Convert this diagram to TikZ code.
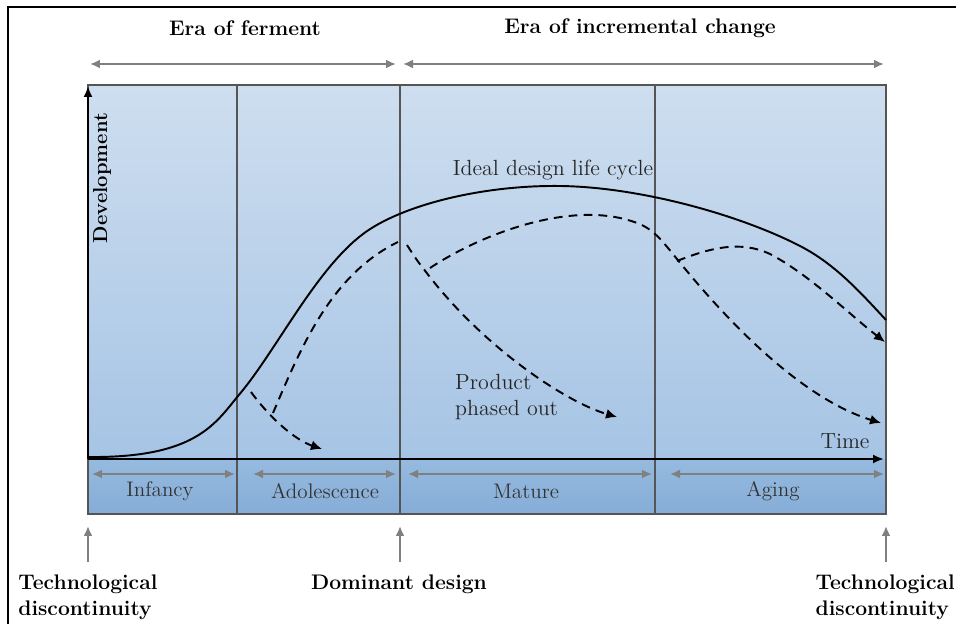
\documentclass[tikz,border=0pt]{standalone}
\usetikzlibrary{positioning, arrows.meta}

\definecolor{paleblue}{RGB}{206,222,239}
\definecolor{midblue}{RGB}{166,196,229}
\definecolor{stripblue}{RGB}{150,186,223}
\definecolor{stripdark}{RGB}{134,173,215}
\definecolor{arrowgray}{RGB}{128,128,128}
\definecolor{framegray}{RGB}{85,85,85}

\tikzset{
  boldlabel/.style={font=\bfseries\fontsize{12}{14.5}\selectfont},
  axislabel/.style={font=\bfseries\fontsize{11.5}{13}\selectfont},
  phase/.style={font=\fontsize{12}{14}\selectfont, text=black!80},
  plain/.style={font=\fontsize{12.5}{15}\selectfont, text=black!85},
  span/.style={arrowgray, line width=1.3pt, {Latex[length=2mm,width=1.8mm]}-{Latex[length=2mm,width=1.8mm]}},
  marker/.style={arrowgray, line width=1.3pt, -{Latex[length=2mm,width=1.8mm]}},
  axis/.style={line width=1.2pt, -{Latex[length=2.2mm,width=1.8mm]}},
  ideal/.style={line width=1.1pt},
  actual/.style={line width=1.1pt, dash pattern=on 5pt off 3.5pt},
  tip/.style={-{Latex[length=2.2mm,width=2mm]}}
}

\begin{document}
\begin{tikzpicture}[x=0.02cm, y=-0.02cm]
    \useasboundingbox (0,0) rectangle (956,624);

    % Frame
    \draw[line width=1.4pt] (8,640) -- (8,7) -- (970,7);

    % Background panels
    \shade[top color=paleblue, bottom color=midblue] (88,85) rectangle (886,459);
    \shade[top color=stripblue, bottom color=stripdark] (88,459) rectangle (886,514);
    \draw[framegray, line width=0.8pt] (88,85) rectangle (886,514);
    \foreach \xx in {237, 400, 655}
        \draw[framegray, line width=0.7pt] (\xx,85) -- (\xx,514);

    % Eras
    \node[boldlabel] (ferment) at (245,28) {Era of ferment};
    \node[boldlabel] (incremental) at (640,28) {Era of incremental change};
    \coordinate (fermentL) at (90,64);
    \coordinate (fermentR) at (396,64);
    \coordinate (incrementalL) at (403,64);
    \coordinate (incrementalR) at (884,64);
    \draw[span] (fermentL) -- (fermentR);
    \draw[span] (incrementalL) -- (incrementalR);

    % Axes
    \coordinate (origin) at (88,459);
    \coordinate (yend) at (88,86);
    \coordinate (xend) at (884,459);
    \draw[axis] (origin) -- (yend);
    \draw[axis] (origin) -- (xend);
    \node[axislabel, rotate=90] (development) at (102,178) {Development};
    \node[plain] (time) at (845,441) {Time};

    % Phases
    \foreach \a/\b/\name/\lbl/\cx in {92/235/infancy/Infancy/160, 253/396/adolescence/Adolescence/325,
                                      408/652/mature/Mature/526, 670/884/aging/Aging/773} {
        \coordinate (\name L) at (\a,474);
        \coordinate (\name R) at (\b,474);
        \draw[span] (\name L) -- (\name R);
        \node[phase] (\name) at (\cx,491) {\lbl};
    }

    % Milestones
    \foreach \xx/\name in {88/startdisc, 400/dominant, 886/enddisc} {
        \coordinate (\name base) at (\xx,562);
        \coordinate (\name top) at (\xx,526);
        \draw[marker] (\name base) -- (\name top);
    }
    \node[boldlabel, align=left, anchor=north west, inner sep=0pt] (startdisclabel) at (18,575) {Technological\\discontinuity};
    \node[boldlabel, anchor=north, inner sep=0pt] (dominantlabel) at (399,575) {Dominant design};
    \node[boldlabel, align=left, anchor=north east, inner sep=0pt] (enddisclabel) at (955,575) {Technological\\discontinuity};

    % Ideal curve
    \draw[ideal] (89,457) .. controls (195,458) and (215,424) .. (238,396)
                 .. controls (275,353) and (315,270) .. (363,234)
                 .. controls (400,206) and (480,185) .. (560,186)
                 .. controls (640,187) and (740,215) .. (800,246)
                 .. controls (835,264) and (860,292) .. (886,320);
    \node[plain] (ideallabel) at (553,170) {Ideal design life cycle};

    % Actual designs
    \draw[actual, tip] (251,392) .. controls (270,418) and (295,440) .. (322,449);
    \draw[actual] (273,413) .. controls (300,350) and (330,275) .. (398,242);
    \draw[actual, tip] (407,245) .. controls (414,256) and (418,262) .. (423,268)
                       .. controls (480,345) and (565,402) .. (617,417);
    \draw[actual, tip] (430,268) .. controls (480,235) and (560,205) .. (620,218)
                       .. controls (650,225) and (655,232) .. (677,259)
                       .. controls (707,296) and (790,395) .. (881,423);
    \draw[actual, tip] (677,261) .. controls (710,248) and (740,240) .. (770,254)
                       .. controls (810,275) and (850,315) .. (885,342);
    \node[plain, align=left, anchor=west] (phasedout) at (449,397) {Product\\phased out};
\end{tikzpicture}
\end{document}
